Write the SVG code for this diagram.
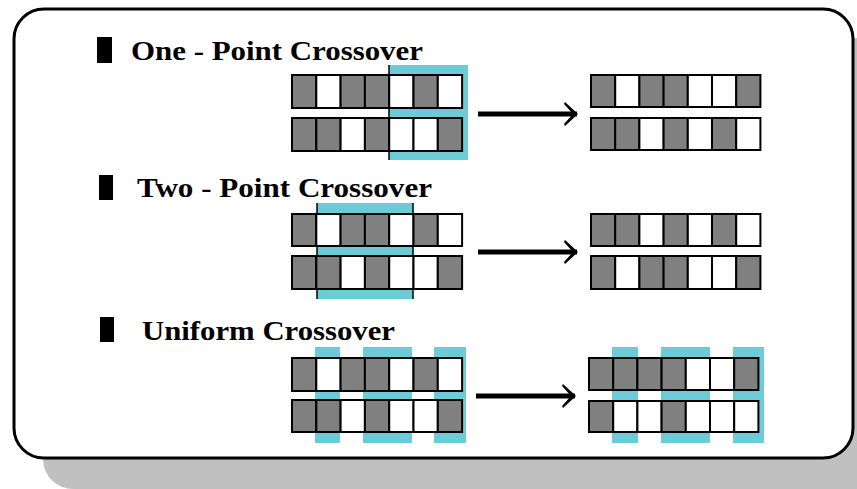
<svg xmlns="http://www.w3.org/2000/svg" width="857" height="489" viewBox="0 0 857 489">
<style>
.g{fill:#808080;stroke:#000;stroke-width:2}
.w{fill:#fff;stroke:#000;stroke-width:2}
.c{fill:#6ccbd6}
.t{font-family:"Liberation Serif",serif;font-weight:bold;font-size:27px;fill:#000}
.cut{stroke:#000;stroke-width:1.5}
.arr{stroke:#000;stroke-width:5;fill:none}
</style>
<defs>
<marker id="ah" viewBox="0 0 14 24" refX="13" refY="12" markerWidth="14" markerHeight="24" markerUnits="userSpaceOnUse" orient="auto">
<path d="M1,0 L14,12 L1,24 L0,22 L9,12 L0,2 Z" fill="#000"/>
</marker>
</defs>
<rect x="43" y="38" width="860" height="451" rx="30" fill="#c0c0c0"/>
<rect x="14" y="9" width="839" height="449" rx="30" fill="#fff" stroke="#000" stroke-width="3"/>

<g id="one-point">
<rect x="97" y="37" width="15" height="26" fill="#000"/>
<text class="t" x="131" y="60" textLength="292" lengthAdjust="spacingAndGlyphs">One - Point Crossover</text>
<rect class="c" x="389" y="65" width="79" height="95"/>
<line class="cut" x1="389" y1="65" x2="389" y2="160"/>
<g transform="translate(292,75)">
<rect class="g" x="0" y="0" width="24.3" height="33"/><rect class="w" x="24.3" y="0" width="24.3" height="33"/><rect class="g" x="48.6" y="0" width="24.3" height="33"/><rect class="g" x="72.9" y="0" width="24.3" height="33"/><rect class="w" x="97.2" y="0" width="24.3" height="33"/><rect class="g" x="121.5" y="0" width="24.3" height="33"/><rect class="w" x="145.8" y="0" width="24.3" height="33"/>
</g>
<g transform="translate(292,118)">
<rect class="g" x="0" y="0" width="24.3" height="33"/><rect class="g" x="24.3" y="0" width="24.3" height="33"/><rect class="w" x="48.6" y="0" width="24.3" height="33"/><rect class="g" x="72.9" y="0" width="24.3" height="33"/><rect class="w" x="97.2" y="0" width="24.3" height="33"/><rect class="w" x="121.5" y="0" width="24.3" height="33"/><rect class="g" x="145.8" y="0" width="24.3" height="33"/>
</g>
<g transform="translate(591,75)">
<rect class="g" x="0" y="0" width="24.2" height="32"/><rect class="w" x="24.2" y="0" width="24.2" height="32"/><rect class="g" x="48.4" y="0" width="24.2" height="32"/><rect class="g" x="72.6" y="0" width="24.2" height="32"/><rect class="w" x="96.8" y="0" width="24.2" height="32"/><rect class="w" x="121" y="0" width="24.2" height="32"/><rect class="g" x="145.2" y="0" width="24.2" height="32"/>
</g>
<g transform="translate(591,118)">
<rect class="g" x="0" y="0" width="24.2" height="32"/><rect class="g" x="24.2" y="0" width="24.2" height="32"/><rect class="w" x="48.4" y="0" width="24.2" height="32"/><rect class="g" x="72.6" y="0" width="24.2" height="32"/><rect class="w" x="96.8" y="0" width="24.2" height="32"/><rect class="g" x="121" y="0" width="24.2" height="32"/><rect class="w" x="145.2" y="0" width="24.2" height="32"/>
</g>
</g>

<g id="two-point">
<rect x="99" y="175" width="14" height="25" fill="#000"/>
<text class="t" x="137" y="197" textLength="295" lengthAdjust="spacingAndGlyphs">Two - Point Crossover</text>
<rect class="c" x="317" y="203" width="96" height="96"/>
<line class="cut" x1="317" y1="203" x2="317" y2="299"/>
<line class="cut" x1="413" y1="203" x2="413" y2="299"/>
<g transform="translate(292,214)">
<rect class="g" x="0" y="0" width="24.3" height="32"/><rect class="w" x="24.3" y="0" width="24.3" height="32"/><rect class="g" x="48.6" y="0" width="24.3" height="32"/><rect class="g" x="72.9" y="0" width="24.3" height="32"/><rect class="w" x="97.2" y="0" width="24.3" height="32"/><rect class="g" x="121.5" y="0" width="24.3" height="32"/><rect class="w" x="145.8" y="0" width="24.3" height="32"/>
</g>
<g transform="translate(292,256)">
<rect class="g" x="0" y="0" width="24.3" height="33"/><rect class="g" x="24.3" y="0" width="24.3" height="33"/><rect class="w" x="48.6" y="0" width="24.3" height="33"/><rect class="g" x="72.9" y="0" width="24.3" height="33"/><rect class="w" x="97.2" y="0" width="24.3" height="33"/><rect class="w" x="121.5" y="0" width="24.3" height="33"/><rect class="g" x="145.8" y="0" width="24.3" height="33"/>
</g>
<g transform="translate(591,214)">
<rect class="g" x="0" y="0" width="24.2" height="32"/><rect class="g" x="24.2" y="0" width="24.2" height="32"/><rect class="w" x="48.4" y="0" width="24.2" height="32"/><rect class="g" x="72.6" y="0" width="24.2" height="32"/><rect class="w" x="96.8" y="0" width="24.2" height="32"/><rect class="g" x="121" y="0" width="24.2" height="32"/><rect class="w" x="145.2" y="0" width="24.2" height="32"/>
</g>
<g transform="translate(591,256)">
<rect class="g" x="0" y="0" width="24.2" height="33"/><rect class="w" x="24.2" y="0" width="24.2" height="33"/><rect class="g" x="48.4" y="0" width="24.2" height="33"/><rect class="g" x="72.6" y="0" width="24.2" height="33"/><rect class="w" x="96.8" y="0" width="24.2" height="33"/><rect class="w" x="121" y="0" width="24.2" height="33"/><rect class="g" x="145.2" y="0" width="24.2" height="33"/>
</g>
</g>

<g id="uniform">
<rect x="100" y="317" width="14" height="25" fill="#000"/>
<text class="t" x="142" y="340" textLength="253" lengthAdjust="spacingAndGlyphs">Uniform Crossover</text>
<rect class="c" x="315" y="347" width="25" height="96"/>
<rect class="c" x="363" y="347" width="49" height="96"/>
<rect class="c" x="434" y="347" width="32" height="96"/>
<rect class="c" x="612" y="347" width="26" height="96"/>
<rect class="c" x="661" y="347" width="49" height="96"/>
<rect class="c" x="733" y="347" width="31" height="96"/>
<g transform="translate(292,358)">
<rect class="g" x="0" y="0" width="24.3" height="33"/><rect class="w" x="24.3" y="0" width="24.3" height="33"/><rect class="g" x="48.6" y="0" width="24.3" height="33"/><rect class="g" x="72.9" y="0" width="24.3" height="33"/><rect class="w" x="97.2" y="0" width="24.3" height="33"/><rect class="g" x="121.5" y="0" width="24.3" height="33"/><rect class="w" x="145.8" y="0" width="24.3" height="33"/>
</g>
<g transform="translate(292,400)">
<rect class="g" x="0" y="0" width="24.3" height="32"/><rect class="g" x="24.3" y="0" width="24.3" height="32"/><rect class="w" x="48.6" y="0" width="24.3" height="32"/><rect class="g" x="72.9" y="0" width="24.3" height="32"/><rect class="w" x="97.2" y="0" width="24.3" height="32"/><rect class="w" x="121.5" y="0" width="24.3" height="32"/><rect class="g" x="145.8" y="0" width="24.3" height="32"/>
</g>
<g transform="translate(589,358)">
<rect class="g" x="0" y="0" width="24.2" height="32"/><rect class="g" x="24.2" y="0" width="24.2" height="32"/><rect class="g" x="48.4" y="0" width="24.2" height="32"/><rect class="g" x="72.6" y="0" width="24.2" height="32"/><rect class="w" x="96.8" y="0" width="24.2" height="32"/><rect class="w" x="121" y="0" width="24.2" height="32"/><rect class="g" x="145.2" y="0" width="24.2" height="32"/>
</g>
<g transform="translate(589,401)">
<rect class="g" x="0" y="0" width="24.2" height="31"/><rect class="w" x="24.2" y="0" width="24.2" height="31"/><rect class="w" x="48.4" y="0" width="24.2" height="31"/><rect class="g" x="72.6" y="0" width="24.2" height="31"/><rect class="w" x="96.8" y="0" width="24.2" height="31"/><rect class="w" x="121" y="0" width="24.2" height="31"/><rect class="w" x="145.2" y="0" width="24.2" height="31"/>
</g>
</g>

<g id="connectors">
<line class="arr" x1="478" y1="114" x2="577" y2="114" marker-end="url(#ah)"/>
<line class="arr" x1="478" y1="252" x2="577" y2="252" marker-end="url(#ah)"/>
<line class="arr" x1="476" y1="396" x2="575" y2="396" marker-end="url(#ah)"/>
</g>
</svg>
